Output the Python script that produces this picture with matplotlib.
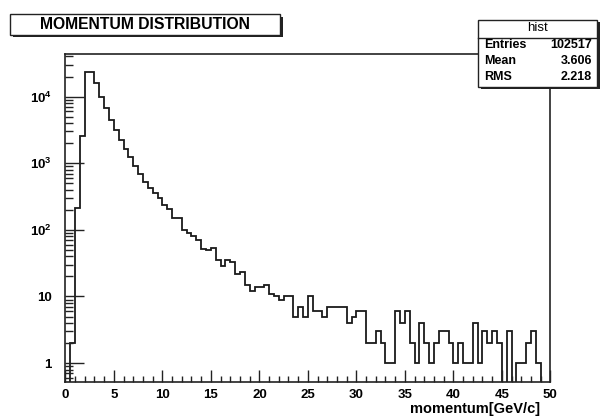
import matplotlib
matplotlib.use('Agg')
import matplotlib.pyplot as plt
from matplotlib.patches import Rectangle
from matplotlib.ticker import FixedLocator, LogLocator, MultipleLocator, NullFormatter
import numpy as np

plt.rcParams['font.family'] = 'Liberation Sans'
plt.rcParams['font.weight'] = 'bold'
plt.rcParams['mathtext.fontset'] = 'custom'
plt.rcParams['mathtext.rm'] = 'Liberation Sans:bold'
plt.rcParams['mathtext.bf'] = 'Liberation Sans:bold'

# histogram "hist": 100 bins of 0.5 GeV/c from 0 to 50
edges = np.linspace(0, 50, 101)
counts = [
    0, 2, 210, 2560, 23800, 23800, 15800, 9960, 6670, 4450,
    3150, 2230, 1615, 1225, 908, 689, 528, 432, 363, 297,
    240, 203, 149, 149, 99, 90, 82, 70, 51, 50,
    53, 35, 29, 35, 33, 22, 23, 15, 12, 14,
    14, 15, 11, 10, 9, 10, 10, 5, 7, 5,
    10, 6, 6, 5, 7, 7, 7, 7, 4, 5,
    6, 6, 2, 2, 3, 2, 1, 1, 6, 4,
    6, 2, 1, 4, 2, 1, 2, 3, 3, 2,
    1, 2, 1, 1, 4, 1, 3, 2, 3, 2,
    0, 3, 0, 1, 1, 2, 3, 1, 0, 0,
]
title = 'MOMENTUM DISTRIBUTION'
xlabel = 'momentum[GeV/c]'
stats_name = 'hist'
stats_rows = [('Entries', '102517'), ('Mean', '3.606'), ('RMS', '2.218')]
xticks = [0, 5, 10, 15, 20, 25, 30, 35, 40, 45, 50]
yticks = [1, 10, 100, 1000, 10000]
ytick_labels = ['1', '10', r'$10^{2}$', r'$10^{3}$', r'$10^{4}$']

fig = plt.figure(figsize=(6.0, 4.16), dpi=100)
ax = fig.add_axes([0.109, 0.0817, 0.8083, 0.7885])

# empty bins drop to the bottom of the frame on a log axis
vals = np.where(np.array(counts) > 0, counts, 1e-3)
ax.stairs(vals, edges, baseline=1e-3, color='#1a1a1a', lw=1.3)

ax.set_yscale('log')
ax.set_xlim(0, 50)
ax.set_ylim(0.52, 43600)

ax.xaxis.set_major_locator(FixedLocator(xticks))
ax.xaxis.set_minor_locator(MultipleLocator(1))
ax.set_xticklabels([str(t) for t in xticks])
ax.yaxis.set_major_locator(FixedLocator(yticks))
ax.yaxis.set_minor_locator(LogLocator(base=10, subs=np.arange(2, 10)))
ax.yaxis.set_minor_formatter(NullFormatter())
ax.set_yticklabels(ytick_labels)

ax.tick_params(axis='both', which='both', direction='in', top=False, right=False,
               labelsize=9.5, color='#222222', width=1.0)
ax.tick_params(axis='x', which='major', length=9, pad=5)
ax.tick_params(axis='x', which='minor', length=4.5)
ax.tick_params(axis='y', which='major', length=14, pad=10)
ax.tick_params(axis='y', which='minor', length=6)
for lab in ax.get_xticklabels() + ax.get_yticklabels():
    lab.set_fontweight('bold')
for sp in ax.spines.values():
    sp.set_linewidth(1.2)
    sp.set_color('#222222')

fig.text(0.901, 0.0165, xlabel, ha='right', va='center', fontsize=10.5, fontweight='bold')

# title pave with shadow
sx, sy = 2.5 / 600, 2.5 / 416
fig.add_artist(Rectangle((0.0167 + sx, 0.916 - sy), 0.45, 0.05, transform=fig.transFigure,
                         facecolor='#222222', edgecolor='none'))
fig.add_artist(Rectangle((0.0167, 0.916), 0.45, 0.05, transform=fig.transFigure,
                         facecolor='white', edgecolor='#222222', lw=1.0))
fig.text(0.2417, 0.941, title, ha='center', va='center', fontsize=11.3, fontweight='bold')

# statistics box
bx, by, bw, bh = 0.797, 0.791, 0.198, 0.161
fig.add_artist(Rectangle((bx + sx, by - sy), bw, bh, transform=fig.transFigure,
                         facecolor='#222222', edgecolor='none'))
fig.add_artist(Rectangle((bx, by), bw, bh, transform=fig.transFigure,
                         facecolor='white', edgecolor='#222222', lw=1.0))
fig.add_artist(plt.Line2D([bx, bx + bw], [0.909, 0.909], transform=fig.transFigure,
                          color='#222222', lw=1.0))
fig.text(bx + bw / 2, 0.932, stats_name, ha='center', va='center', fontsize=9.5,
         fontweight='normal')
for i, (name, val) in enumerate(stats_rows):
    yy = 0.892 - i * 0.038
    fig.text(bx + 0.01, yy, name, ha='left', va='center', fontsize=9, fontweight='bold')
    fig.text(bx + bw - 0.008, yy, val, ha='right', va='center', fontsize=9, fontweight='bold')

fig.savefig('out.png', dpi=100)
